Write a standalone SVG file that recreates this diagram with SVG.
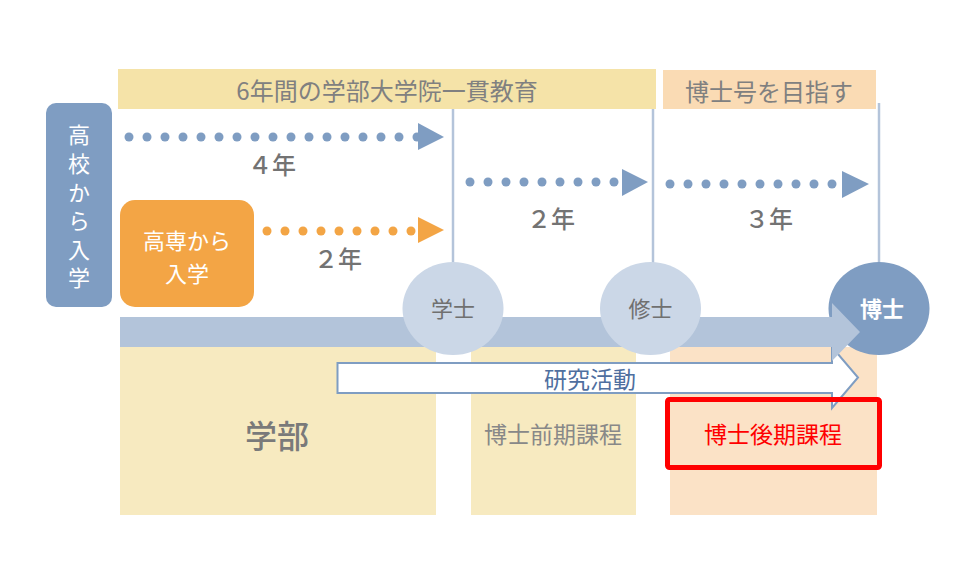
<svg xmlns="http://www.w3.org/2000/svg" width="960" height="580" viewBox="0 0 960 580">
<style>
text{font-family:"Noto Sans CJK JP","Noto Sans",sans-serif;text-anchor:middle;dominant-baseline:central}
.hdr{font-size:24px;fill:#808080}
.yr{font-size:24px;fill:#737373;font-weight:500}
.wt{fill:#ffffff;font-size:22px}
.vline{stroke:#B4C4DA;stroke-width:2.5;fill:none}
.bdot{fill:#7F9DC2}
.odot{fill:#F3A545}
</style>
<rect width="960" height="580" fill="#ffffff"/>
<g id="headers">
<rect x="118" y="69" width="538" height="40" fill="#F5E3A8"/>
<text class="hdr" x="387" y="89">6年間の学部大学院一貫教育</text>
<rect x="663" y="70" width="213" height="39" fill="#FADBB4"/>
<text class="hdr" x="769" y="90">博士号を目指す</text>
</g>
<g id="columns">
<rect x="120" y="347" width="316" height="168" fill="#F7EAC0"/>
<rect x="471" y="347" width="165" height="168" fill="#F7EAC0"/>
<rect x="670" y="347" width="207" height="168" fill="#FBE2C6"/>
</g>
<g id="connectors">
<line class="vline" x1="453" y1="109" x2="453" y2="290"/>
<line class="vline" x1="653" y1="109" x2="653" y2="290"/>
<line class="vline" x1="879" y1="103" x2="879" y2="290"/>
<g id="arrow4">
<circle class="bdot" cx="129" cy="137" r="4.5"/><circle class="bdot" cx="147" cy="137" r="4.5"/><circle class="bdot" cx="165" cy="137" r="4.5"/><circle class="bdot" cx="183" cy="137" r="4.5"/><circle class="bdot" cx="201" cy="137" r="4.5"/><circle class="bdot" cx="219" cy="137" r="4.5"/><circle class="bdot" cx="237" cy="137" r="4.5"/><circle class="bdot" cx="255" cy="137" r="4.5"/><circle class="bdot" cx="273" cy="137" r="4.5"/><circle class="bdot" cx="291" cy="137" r="4.5"/><circle class="bdot" cx="309" cy="137" r="4.5"/><circle class="bdot" cx="327" cy="137" r="4.5"/><circle class="bdot" cx="345" cy="137" r="4.5"/><circle class="bdot" cx="363" cy="137" r="4.5"/><circle class="bdot" cx="381" cy="137" r="4.5"/><circle class="bdot" cx="399" cy="137" r="4.5"/><circle class="bdot" cx="417" cy="137" r="4.5"/>
<polygon class="bdot" points="418,123 444,137 418,150"/>
</g>
<g id="arrow2o">
<circle class="odot" cx="267" cy="231" r="4.5"/><circle class="odot" cx="285" cy="231" r="4.5"/><circle class="odot" cx="303" cy="231" r="4.5"/><circle class="odot" cx="321" cy="231" r="4.5"/><circle class="odot" cx="339" cy="231" r="4.5"/><circle class="odot" cx="357" cy="231" r="4.5"/><circle class="odot" cx="375" cy="231" r="4.5"/><circle class="odot" cx="393" cy="231" r="4.5"/><circle class="odot" cx="411" cy="231" r="4.5"/>
<polygon class="odot" points="418,217 444,230 418,243"/>
</g>
<g id="arrow2b">
<circle class="bdot" cx="470" cy="182" r="4.5"/><circle class="bdot" cx="488" cy="182" r="4.5"/><circle class="bdot" cx="506" cy="182" r="4.5"/><circle class="bdot" cx="524" cy="182" r="4.5"/><circle class="bdot" cx="542" cy="182" r="4.5"/><circle class="bdot" cx="560" cy="182" r="4.5"/><circle class="bdot" cx="578" cy="182" r="4.5"/><circle class="bdot" cx="596" cy="182" r="4.5"/><circle class="bdot" cx="614" cy="182" r="4.5"/>
<polygon class="bdot" points="622,169 648,182 622,196"/>
</g>
<g id="arrow3">
<circle class="bdot" cx="670" cy="184" r="4.5"/><circle class="bdot" cx="688" cy="184" r="4.5"/><circle class="bdot" cx="706" cy="184" r="4.5"/><circle class="bdot" cx="724" cy="184" r="4.5"/><circle class="bdot" cx="742" cy="184" r="4.5"/><circle class="bdot" cx="760" cy="184" r="4.5"/><circle class="bdot" cx="778" cy="184" r="4.5"/><circle class="bdot" cx="796" cy="184" r="4.5"/><circle class="bdot" cx="814" cy="184" r="4.5"/><circle class="bdot" cx="832" cy="184" r="4.5"/>
<polygon class="bdot" points="842,171 869,184 842,198"/>
</g>
<text class="yr" x="272" y="163">４年</text>
<text class="yr" x="338" y="257">２年</text>
<text class="yr" x="551" y="217">２年</text>
<text class="yr" x="769" y="217">３年</text>
<polygon id="research" points="337.5,363 832,363 832,347 858,377.5 832,408 832,393 337.5,393" fill="#ffffff" stroke="#7F9DC2" stroke-width="2"/>
</g>
<g id="n-hakase">
<ellipse cx="879" cy="308.5" rx="50.5" ry="46.5" fill="#7F9DC2"/>
</g>
<polygon id="timeline" points="120,317 832,317 832,303 860,332 832,361 832,347 120,347" fill="#B3C4DA"/>
<text x="882" y="307" style="font-size:22px;fill:#ffffff;font-weight:bold">博士</text>
<g id="n-gakushi">
<ellipse cx="453" cy="308.5" rx="50.5" ry="46.5" fill="#CBD7E7"/>
<text x="453" y="307" style="font-size:22px;fill:#707070">学士</text>
</g>
<g id="n-shushi">
<ellipse cx="650.5" cy="308.5" rx="50.5" ry="46.5" fill="#CBD7E7"/>
<text x="650.5" y="307" style="font-size:22px;fill:#707070">修士</text>
</g>
<g id="n-koukou">
<rect x="46" y="103" width="66" height="204" rx="10" fill="#7F9DC2"/>
<text x="79" y="124" writing-mode="vertical-rl" style="font-size:22px;fill:#ffffff;letter-spacing:6.6px;text-anchor:start">高校から入学</text>
</g>
<g id="n-kosen">
<rect x="120" y="200" width="134" height="107" rx="15" fill="#F3A545"/>
<text class="wt" x="187" y="239">高専から</text>
<text class="wt" x="187" y="271.5">入学</text>
</g>
<text x="590" y="378" style="font-size:23px;fill:#4F6F9F">研究活動</text>
<g id="n-gakubu">
<text x="277" y="434" style="font-size:32px;fill:#7A7A7A;font-weight:500">学部</text>
</g>
<g id="n-zenki">
<text x="553" y="433" style="font-size:23px;fill:#888888">博士前期課程</text>
</g>
<g id="n-kouki">
<rect x="667.5" y="399.5" width="212" height="68" rx="2" fill="none" stroke="#FF0000" stroke-width="5"/>
<text x="773" y="433" style="font-size:23px;fill:#FF0000">博士後期課程</text>
</g>
</svg>
